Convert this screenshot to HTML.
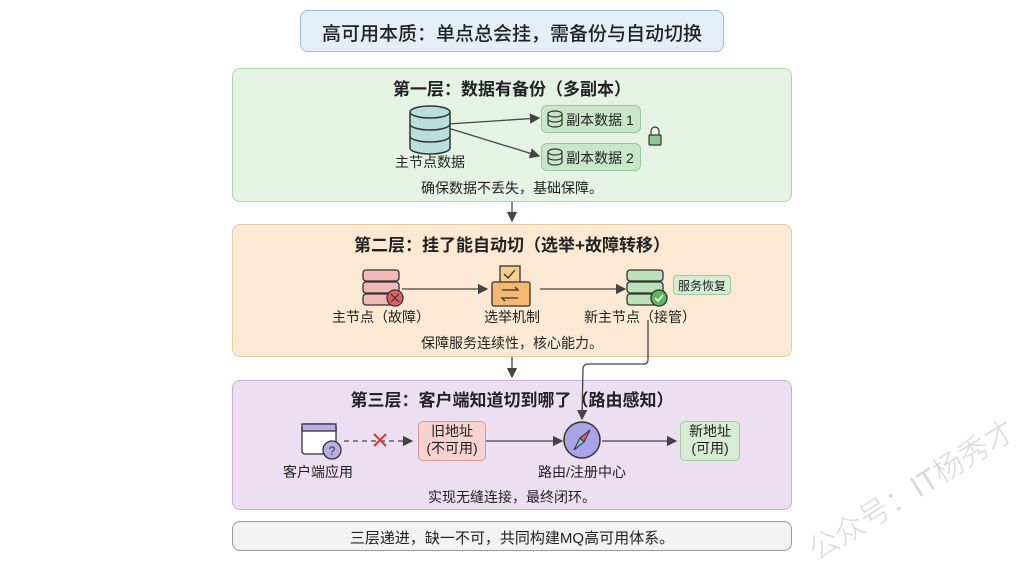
<!DOCTYPE html>
<html><head><meta charset="utf-8"><style>
body{margin:0;width:1024px;height:559px;background:#fff;position:relative;overflow:hidden;font-family:"Liberation Sans","Noto Sans CJK SC",sans-serif;color:#222}
.b{position:absolute;box-sizing:border-box;border-radius:8px}
.t{position:absolute;white-space:nowrap;transform:translateX(-50%);font-size:14px}
.h{font-size:17px;font-weight:bold}
</style></head><body>
<div class="b" style="left:300px;top:10px;width:424px;height:42px;background:#e3eef9;border:1.5px solid #9dbbd8;"></div>
<div class="t" style="left:512px;top:19px;font-size:19px;font-weight:500">高可用本质：单点总会挂，需备份与自动切换</div>

<div class="b" style="left:232px;top:68px;width:560px;height:134px;background:#e5f3e5;border:1.5px solid #a9d5aa"></div>
<div class="b" style="left:232px;top:224px;width:560px;height:133px;background:#fce9d3;border:1.5px solid #eac9a0"></div>
<div class="b" style="left:232px;top:380px;width:560px;height:130px;background:#ecdff2;border:1.5px solid #c9aed6"></div>
<div class="b" style="left:232px;top:521px;width:560px;height:30px;background:#f2f2f2;border:1.5px solid #999"></div>

<div class="t h" style="left:512px;top:75px">第一层：数据有备份（多副本）</div>
<div class="t" style="left:430px;top:152px">主节点数据</div>
<div class="t" style="left:512px;top:178px">确保数据不丢失，基础保障。</div>
<div class="b" style="left:541px;top:105px;width:100px;height:28px;background:#c9e6c9;border:1px solid #98c99a;border-radius:6px"></div>
<div class="b" style="left:541px;top:143px;width:100px;height:28px;background:#c9e6c9;border:1px solid #98c99a;border-radius:6px"></div>
<div class="t" style="left:600px;top:110px;font-size:14px">副本数据 1</div>
<div class="t" style="left:600px;top:148px;font-size:14px">副本数据 2</div>

<div class="t h" style="left:512px;top:231px">第二层：挂了能自动切（选举+故障转移）</div>
<div class="t" style="left:381px;top:307px;font-size:14px">主节点（故障）</div>
<div class="t" style="left:512px;top:307px;font-size:14px">选举机制</div>
<div class="t" style="left:640px;top:307px;font-size:14px">新主节点（接管）</div>
<div class="b" style="left:673px;top:275px;width:58px;height:20px;background:#d3ecd3;border:1px solid #98c99a;border-radius:4px"></div>
<div class="t" style="left:702px;top:277px;font-size:12px">服务恢复</div>
<div class="t" style="left:512px;top:333px">保障服务连续性，核心能力。</div>

<div class="t h" style="left:512px;top:386px">第三层：客户端知道切到哪了（路由感知）</div>
<div class="b" style="left:418px;top:421px;width:68px;height:40px;background:#f7d2d0;border:1px solid #d99a96;border-radius:5px"></div>
<div class="t" style="left:452px;top:423px;line-height:17px;text-align:center;font-size:14px">旧地址<br>(不可用)</div>
<div class="b" style="left:680px;top:421px;width:60px;height:40px;background:#d6ecd3;border:1px solid #9fcc9c;border-radius:5px"></div>
<div class="t" style="left:710px;top:423px;line-height:17px;text-align:center;font-size:14px">新地址<br>(可用)</div>
<div class="t" style="left:318px;top:462px">客户端应用</div>
<div class="t" style="left:582px;top:462px;font-size:14px">路由/注册中心</div>
<div class="t" style="left:512px;top:487px">实现无缝连接，最终闭环。</div>

<div class="t" style="left:512px;top:527px;font-size:15px">三层递进，缺一不可，共同构建MQ高可用体系。</div>

<div style="position:absolute;left:792px;top:466px;font-size:30px;color:#d8d8d8;transform:rotate(-32deg);white-space:nowrap;font-weight:300">公众号：IT杨秀才</div>

<svg width="1024" height="559" style="position:absolute;left:0;top:0">
<defs><marker id="a" markerWidth="8" markerHeight="8" refX="7" refY="4" orient="auto"><path d="M0,0 L8,4 L0,8 z" fill="#444"/></marker></defs>
<g stroke="#444" stroke-width="1.3" fill="none">
<line x1="512" y1="202" x2="512" y2="221" marker-end="url(#a)"/>
<line x1="512" y1="357" x2="512" y2="377" marker-end="url(#a)"/>
<line x1="448" y1="124" x2="539" y2="118" marker-end="url(#a)"/>
<line x1="448" y1="128" x2="539" y2="156" marker-end="url(#a)"/>
<line x1="402" y1="289" x2="487" y2="289" marker-end="url(#a)"/>
<line x1="540" y1="289" x2="625" y2="289" marker-end="url(#a)"/>
<path d="M648 320 V360 Q648 364 644 364 H588 Q584 364 583 368 L582 419" marker-end="url(#a)"/>
<line x1="344" y1="441" x2="412" y2="441" stroke-dasharray="5,4" marker-end="url(#a)"/>
<line x1="486" y1="441" x2="562" y2="441" marker-end="url(#a)"/>
<line x1="602" y1="441" x2="676" y2="441" marker-end="url(#a)"/>
</g>
<path d="M374 434 L386 446 M386 434 L374 446" stroke="#d33" stroke-width="2"/>
<g stroke="#333" stroke-width="1.5" fill="#b9dfdc">
<path d="M410 112 v36 a20 6 0 0 0 40 0 v-36"/>
<ellipse cx="430" cy="112" rx="20" ry="6"/>
<path d="M410 124 a20 6 0 0 0 40 0 M410 136 a20 6 0 0 0 40 0" fill="none"/>
</g>
<g stroke="#333" stroke-width="1.2" fill="none">
<ellipse cx="555" cy="114" rx="7" ry="3"/><path d="M548 114v10a7 3 0 0 0 14 0v-10M548 119a7 3 0 0 0 14 0"/>
<ellipse cx="555" cy="152" rx="7" ry="3"/><path d="M548 152v10a7 3 0 0 0 14 0v-10M548 157a7 3 0 0 0 14 0"/>
<rect x="649" y="135" width="12" height="10" rx="1" fill="#8fc98f"/><path d="M651 135v-4a4 4 0 0 1 8 0v4"/>
</g>
<g stroke="#333" stroke-width="1.3" fill="#f2b8b8">
<rect x="363" y="270" width="36" height="11" rx="3"/><rect x="363" y="282" width="36" height="11" rx="3"/><rect x="363" y="294" width="36" height="11" rx="3"/>
<circle cx="395" cy="298" r="8" fill="#e06060"/>
</g>
<path d="M391 294l8 8M399 294l-8 8" stroke="#333" stroke-width="1.2"/>
<g stroke="#333" stroke-width="1.3">
<rect x="500" y="266" width="20" height="18" fill="#f6d08a"/>
<path d="M504 274l4 4 7-8" fill="none"/>
<rect x="492" y="282" width="38" height="24" rx="2" fill="#f4b870"/>
<path d="M502 290h16l-3-3M518 298h-16l3 3" fill="none"/>
</g>
<g stroke="#333" stroke-width="1.3" fill="#b9e0b9">
<rect x="627" y="270" width="36" height="11" rx="3"/><rect x="627" y="282" width="36" height="11" rx="3"/><rect x="627" y="294" width="36" height="11" rx="3"/>
<circle cx="659" cy="298" r="8" fill="#5cb85c"/>
</g>
<path d="M655 298l3 3 5-6" stroke="#fff" stroke-width="1.5" fill="none"/>
<g stroke="#333" stroke-width="1.3">
<rect x="302" y="424" width="34" height="30" rx="3" fill="#fff"/>
<rect x="302" y="424" width="34" height="7" fill="#b7aee6"/>
<circle cx="332" cy="450" r="9" fill="#b7aee6"/>
</g>
<text x="332" y="455" font-size="12" text-anchor="middle" fill="#333" font-family="Liberation Sans">?</text>
<circle cx="582" cy="440" r="18" fill="#a9a4e8" stroke="#333" stroke-width="1.5"/>
<path d="M590 430 L584 442 L580 438 Z" fill="#e06060" stroke="#333" stroke-width="1"/>
<path d="M574 450 L580 438 L584 442 Z" fill="#7cc8e8" stroke="#333" stroke-width="1"/>
</svg>
</body></html>
